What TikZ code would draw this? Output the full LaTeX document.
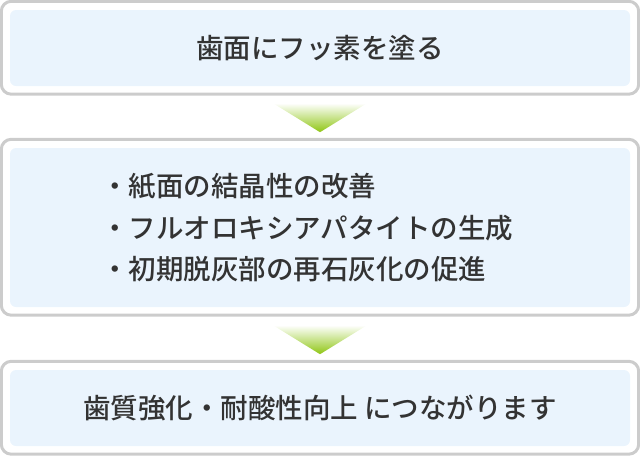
\documentclass[tikz,border=0pt]{standalone}
\usepackage{fontspec}
\usetikzlibrary{positioning}
\newfontfamily\jp{Noto Sans CJK JP Medium}

\definecolor{panelblue}{RGB}{234,244,253}
\definecolor{framegray}{RGB}{204,204,204}
\definecolor{textgray}{RGB}{51,51,51}
\definecolor{arrowgreen}{RGB}{143,198,20}

\tikzset{
  panel/.style={fill=panelblue, rounded corners=6pt, minimum width=620pt,
    inner sep=0pt, text=textgray, font=\jp\fontsize{27.5}{41.5}\selectfont},
  frame/.style={draw=framegray, line width=3pt, rounded corners=10pt},
  arrowtri/.style={top color=white, bottom color=arrowgreen}
}

\begin{document}
\begin{tikzpicture}[x=1pt,y=1pt]
  \useasboundingbox (0,0) rectangle (640,-456);

  % Three panels
  \node[panel, minimum height=76pt] (fluoride) at (320,-48) {歯面にフッ素を塗る};
  \node[panel, minimum height=159pt] (effects) at (320,-227.5) {};
  \node[panel, minimum height=76pt] (result) at (320,-408) {歯質強化・耐酸性向上 につながります};

  \node[anchor=west, align=left, inner sep=0pt, text=textgray,
    font=\jp\fontsize{27.5}{41.5}\selectfont] (list) at (101,-228)
    {・紙面の結晶性の改善\\・フルオロキシアパタイトの生成\\・初期脱灰部の再石灰化の促進};

  % Frames round the panels
  \foreach \p in {fluoride,effects,result} {
    \draw[frame] ([xshift=-8.5pt,yshift=8.5pt]\p.north west)
      rectangle ([xshift=8.5pt,yshift=-8pt]\p.south east);
  }

  % Arrows between panels
  \coordinate (t1) at ([yshift=-17pt]fluoride.south);
  \coordinate (t2) at ([yshift=-18pt]effects.south);
  \foreach \t in {t1,t2} {
    \shade[arrowtri] ([xshift=-47pt]\t) -- ([xshift=47pt]\t) -- ([yshift=-29pt]\t) -- cycle;
  }
\end{tikzpicture}
\end{document}
